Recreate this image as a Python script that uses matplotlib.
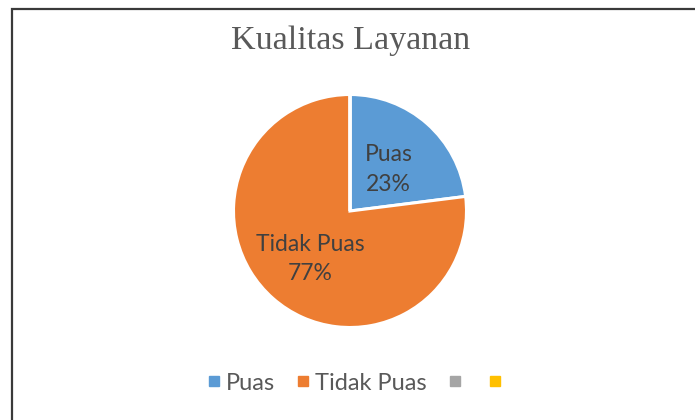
import matplotlib
matplotlib.use('Agg')
import matplotlib.pyplot as plt
from matplotlib.lines import Line2D
from matplotlib.patches import Rectangle
import numpy as np

# data
categories = ['Puas', 'Tidak Puas', '', '']
values = [23, 77, 0, 0]
colors = ['#5B9BD5', '#ED7D31', '#A5A5A5', '#FFC000']
title = 'Kualitas Layanan'

W, H = 695, 420
fig = plt.figure(figsize=(W / 100, H / 100), dpi=100)
fig.patch.set_facecolor('white')

# outer chart border (cut off on the right and bottom in the reference)
fig.add_artist(Rectangle((11.5 / W, -0.2), 1.2, 1.2 - 8.5 / H,
                         transform=fig.transFigure, fill=False,
                         edgecolor='#3a3a3a', linewidth=1.6, clip_on=False))

# pie axes: centre (350, 211) px, radius 116 px
cx, cy, r = 350, 211, 116.5
ax = fig.add_axes([(cx - r) / W, (H - cy - r) / H, 2 * r / W, 2 * r / H])
wedges, _ = ax.pie(values, colors=colors, startangle=90, counterclock=False,
                   radius=1, wedgeprops=dict(edgecolor='white', linewidth=2.2))
ax.set_xlim(-1, 1)
ax.set_ylim(-1, 1)
ax.set_aspect('equal')
ax.axis('off')

# data labels
label_dist = [0.5, 0.52, 0.5, 0.5]
total = sum(values)
for w, name, v, d in zip(wedges, categories, values, label_dist):
    if v == 0:
        continue
    ang = np.deg2rad((w.theta1 + w.theta2) / 2)
    ax.text(d * np.cos(ang), d * np.sin(ang) - 0.02,
            f'{name}\n{v / total:.0%}', ha='center', va='center',
            fontsize=16.5, family='Lato', color='#404040', linespacing=1.5)

fig.text(351 / W, 1 - 41 / H, title, ha='center', va='center',
         fontsize=24.5, family='Liberation Serif', color='#595959')

handles = [Line2D([], [], marker='s', linestyle='none', markersize=7.5,
                  markerfacecolor=c, markeredgecolor=c) for c in colors]
fig.legend(handles, categories, loc='center', bbox_to_anchor=(0.513, 1 - 383 / H),
           ncol=4, frameon=False, handletextpad=0.15, columnspacing=0.85,
           handlelength=0.7, prop={'family': 'Lato', 'size': 17},
           labelcolor='#595959')

fig.savefig('out.png', dpi=100)
